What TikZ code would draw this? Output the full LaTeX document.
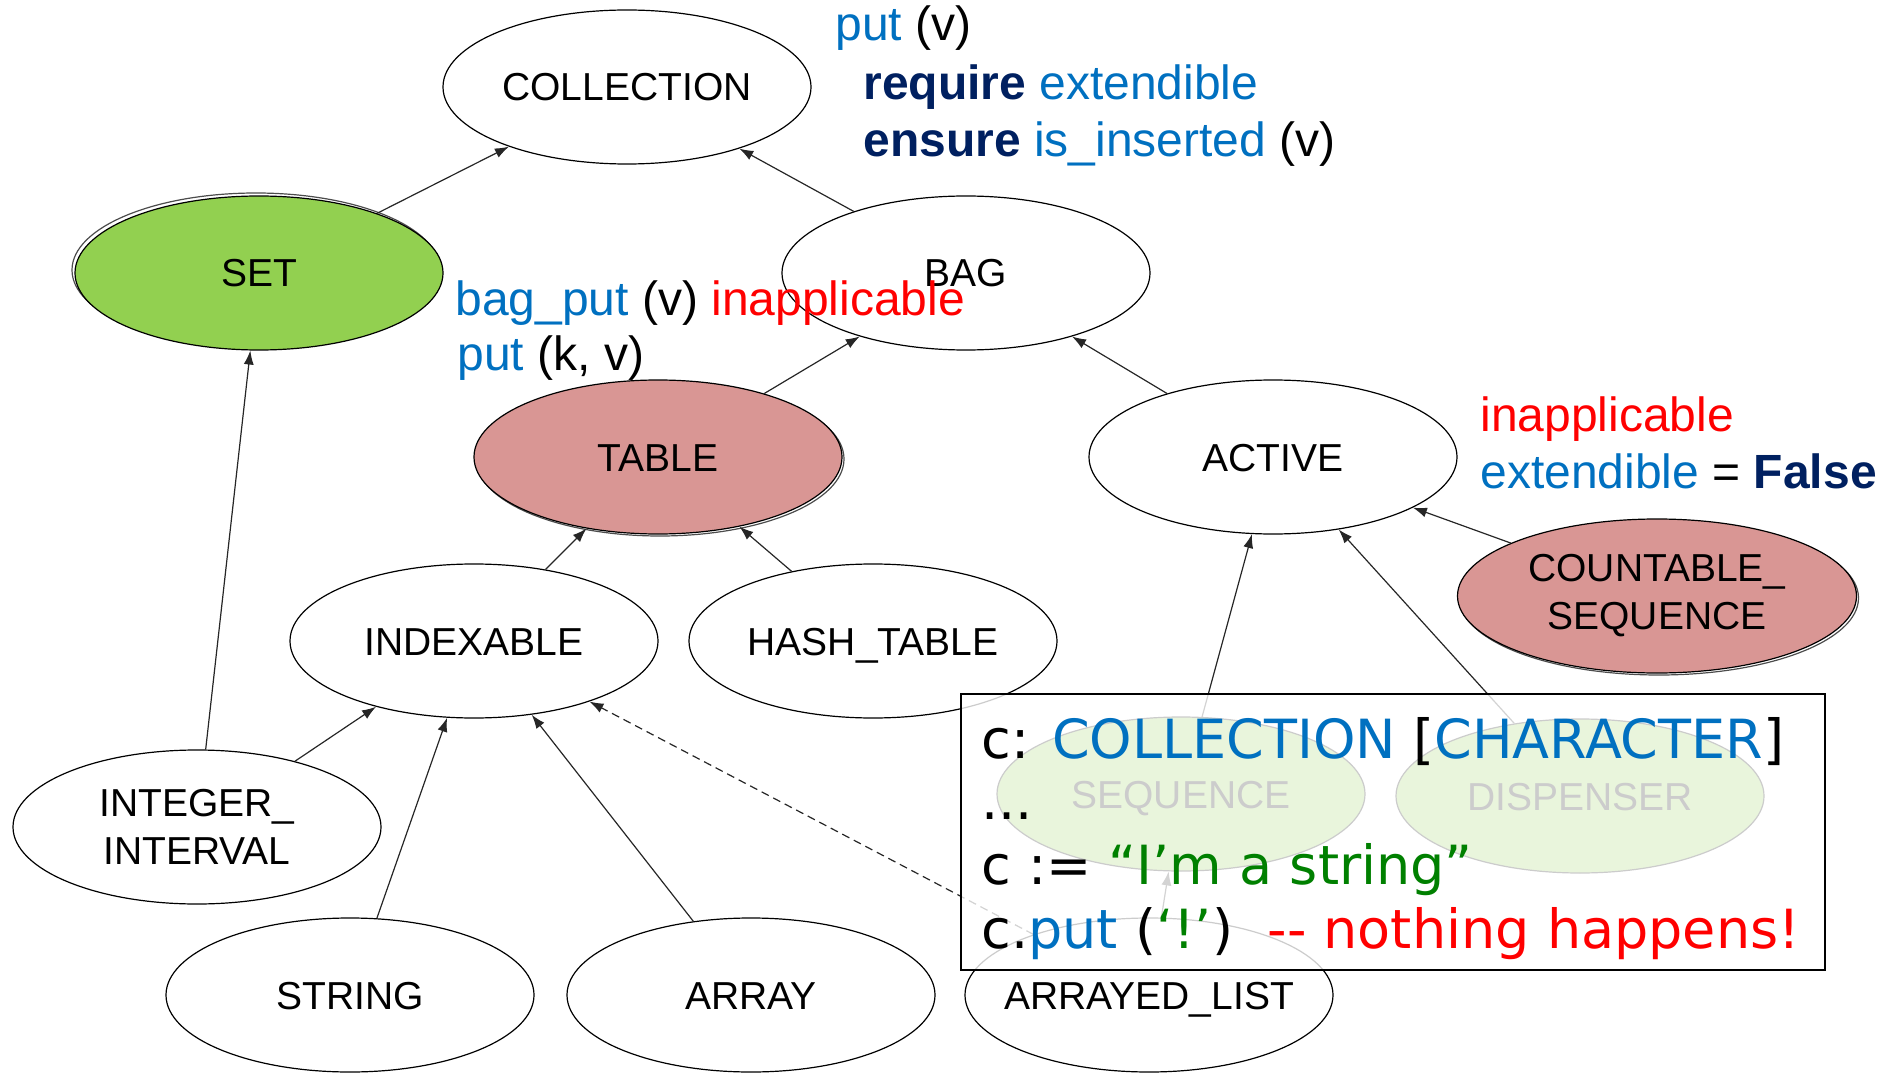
\documentclass[tikz,border=0pt]{standalone}
\usepackage{fontspec}
\setmainfont{Liberation Sans}
\newfontfamily\boxfont{DejaVu Sans}
\usetikzlibrary{arrows.meta,shapes.geometric}
\definecolor{cblue}{HTML}{0070C0}
\definecolor{cnavy}{HTML}{002060}
\definecolor{cred}{HTML}{FF0000}
\definecolor{cgreen}{HTML}{008000}
\definecolor{setgreen}{HTML}{92D050}
\definecolor{rose}{HTML}{D99694}
\newcommand\lbl[1]{\makebox[0pt][c]{#1}}
\tikzset{
  cls/.style={ellipse, draw=black, line width=0.6pt, fill=white, inner sep=0pt,
    minimum width=184pt, minimum height=77pt, align=center,
    font=\fontsize{19.5}{24}\selectfont},
  one/.style={text height=14pt, text depth=0pt},
  shadowring/.style={ellipse, draw=black!70, line width=0.6pt, inner sep=0pt,
    minimum width=184pt, minimum height=77pt},
  inh/.style={draw=black!85, line width=0.6pt, -{Latex[length=7pt,width=5pt]}},
  ann/.style={anchor=base west, inner sep=0pt, font=\fontsize{24}{29}\selectfont},
  code/.style={anchor=base west, inner sep=0pt, font=\boxfont\fontsize{27}{32}\selectfont}
}
\begin{document}
\begin{tikzpicture}[x=0.5pt,y=-0.5pt]
\useasboundingbox (0,0) rectangle (1880,1075);
% shadow rings
\node[shadowring] (setsh) at (256,270) {};
\node[shadowring] (tablesh) at (660,459) {};
\node[shadowring, minimum width=199.5pt] (cssh) at (1659,598) {};
% classes
\node[cls, one] (COLLECTION) at (627,87) {\lbl{COLLECTION}};
\node[cls, one, fill=setgreen] (SET) at (259,273) {\lbl{SET}};
\node[cls, one] (BAG) at (966,273) {\lbl{BAG}};
\node[cls, one, fill=rose] (TABLE) at (658,457) {\lbl{TABLE}};
\node[cls, one] (ACTIVE) at (1273,457) {\lbl{ACTIVE}};
\node[cls, one] (INDEXABLE) at (474,641) {\lbl{INDEXABLE}};
\node[cls, one] (HASH) at (873,641) {\lbl{HASH\_TABLE}};
\node[cls, fill=rose, minimum width=199.5pt] (CS) at (1657,596) {COUNTABLE\_\\SEQUENCE};
\node[cls] (INTINT) at (197,827) {INTEGER\_\\INTERVAL};
\node[cls, one, fill=setgreen] (SEQ) at (1181,794) {\lbl{SEQUENCE}};
\node[cls, one, fill=setgreen] (DISP) at (1580,796) {\lbl{DISPENSER}};
\node[cls, one] (STRING) at (350,995) {\lbl{STRING}};
\node[cls, one] (ARRAY) at (751,995) {\lbl{ARRAY}};
\node[cls, one] (ARRAYED) at (1149,995) {\lbl{ARRAYED\_LIST}};
% inheritance
\draw[inh] (SET) -- (COLLECTION);
\draw[inh] (BAG) -- (COLLECTION);
\draw[inh] (TABLE) -- (BAG);
\draw[inh] (ACTIVE) -- (BAG);
\draw[inh] (INDEXABLE) -- (TABLE);
\draw[inh] (HASH) -- (TABLE);
\draw[inh] (CS) -- (ACTIVE);
\draw[inh] (SEQ) -- (ACTIVE);
\draw[inh] (DISP) -- (ACTIVE);
\draw[inh] (INTINT) -- (SET);
\draw[inh] (INTINT) -- (INDEXABLE);
\draw[inh] (STRING) -- (INDEXABLE);
\draw[inh] (ARRAY) -- (INDEXABLE);
\draw[inh, dash pattern=on 4pt off 2.5pt] (ARRAYED) -- (INDEXABLE);
\draw[inh] (ARRAYED) -- (SEQ);
% annotations
\node[ann] (a1) at (835,41) {{\color{cblue}put} (v)};
\node[ann] (a2) at (863,100) {{\color{cnavy}\bfseries require} {\color{cblue}extendible}};
\node[ann] (a3) at (863,157) {{\color{cnavy}\bfseries ensure} {\color{cblue}is\_inserted} (v)};
\node[ann] (a4) at (455,315) {{\color{cblue}bag\_put} (v) {\color{cred}inapplicable}};
\node[ann] (a5) at (457,371) {{\color{cblue}put} (k, v)};
\node[ann] (a6) at (1480,431) {{\color{cred}inapplicable}};
\node[ann] (a7) at (1480,488) {{\color{cblue}extendible} = {\color{cnavy}\bfseries False}};
% code box
\node[draw=black, line width=1pt, fill=white, fill opacity=0.8, inner sep=0pt,
  minimum width=432pt, minimum height=138pt, anchor=north west] (codebox) at (960,693) {};
\node[code] (c1) at (981,758) {c: {\color{cblue}COLLECTION} [{\color{cblue}CHARACTER}]};
\node[code] (c2) at (981,819) {...};
\node[code] (c3) at (981,884) {c := {\color{cgreen}“I’m a string”}};
\node[code] (c4) at (981,948) {c.{\color{cblue}put} ({\color{cgreen}‘!’})\ \ {\color{cred}-{}- nothing happens!}};
\end{tikzpicture}
\end{document}
